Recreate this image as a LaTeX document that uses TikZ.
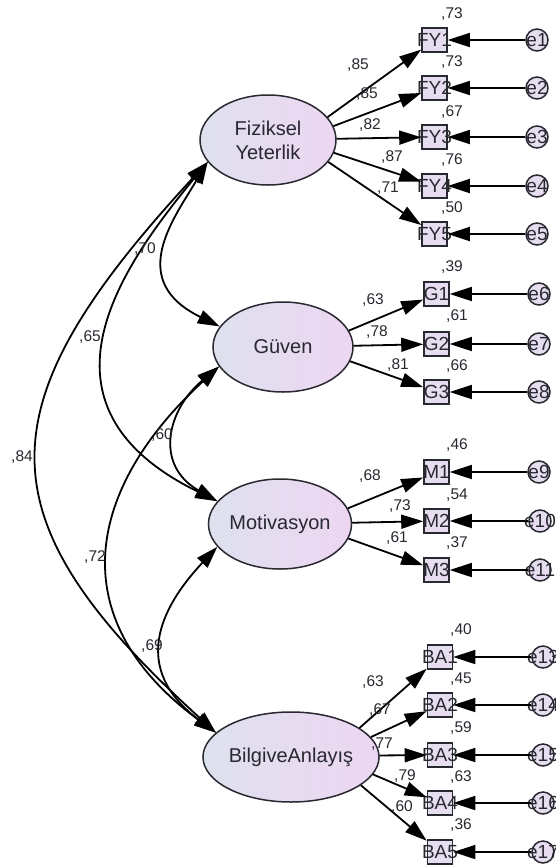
\documentclass[tikz,border=0pt]{standalone}
\usepackage{fontspec}
\setmainfont{Liberation Sans}
\usetikzlibrary{arrows.meta,shapes.geometric}
\definecolor{boxfill}{RGB}{230,222,240}
\definecolor{ellL}{RGB}{222,225,238}
\definecolor{ellR}{RGB}{237,214,242}
\definecolor{ink}{RGB}{40,40,48}
\newcommand{\ovl}[1]{\makebox[0pt][c]{#1}}
\begin{document}
\begin{tikzpicture}[x=1pt,y=-1pt,
  >={Triangle[length=22pt,width=14pt]},
  lat/.style={ellipse,draw=ink,line width=1.5pt,minimum width=136pt,minimum height=90pt,
    inner sep=0pt,left color=ellL,right color=ellR,text=ink,align=center,
    font=\fontsize{20}{24}\selectfont},
  obs/.style={rectangle,draw=ink,line width=1.6pt,fill=boxfill,minimum width=25pt,
    minimum height=24pt,inner sep=0pt,text=ink,font=\fontsize{19}{22}\selectfont},
  err/.style={circle,draw=ink,line width=1.5pt,fill=boxfill,minimum size=22pt,
    inner sep=0pt,text=ink,font=\fontsize{19}{22}\selectfont},
  lab/.style={inner sep=0pt,text=ink,font=\fontsize{15.5}{17}\selectfont},
  load/.style={draw=black,line width=1.8pt,->},
  cov/.style={draw=black,line width=1.8pt,<->},
]
\path[use as bounding box,fill=white] (0,0) rectangle (556,868);
\clip (0,0) rectangle (556,868);

% latent variables
\node[lat] (F) at (268,140) {Fiziksel\\Yeterlik};
\node[lat,minimum width=140pt] (G) at (283,347) {Güven};
\node[lat] (M) at (280,524) {Motivasyon};
\node[lat,minimum width=134pt] (BA) at (291,757) {BilgiveAnlayış};

% observed variables
\node[obs] (FY1) at (434.5,40) {\ovl{FY1}};
\node[obs] (FY2) at (434.5,88) {\ovl{FY2}};
\node[obs] (FY3) at (434.5,137) {\ovl{FY3}};
\node[obs] (FY4) at (434.5,186) {\ovl{FY4}};
\node[obs] (FY5) at (434.5,234) {\ovl{FY5}};
\node[obs] (G1) at (436.5,294) {\ovl{G1}};
\node[obs] (G2) at (436.5,344) {\ovl{G2}};
\node[obs] (G3) at (436.5,392) {\ovl{G3}};
\node[obs] (M1) at (436.5,472) {\ovl{M1}};
\node[obs] (M2) at (436.5,521) {\ovl{M2}};
\node[obs] (M3) at (436.5,570) {\ovl{M3}};
\node[obs] (BA1) at (440,657) {\ovl{BA1}};
\node[obs] (BA2) at (440,705) {\ovl{BA2}};
\node[obs] (BA3) at (440,755) {\ovl{BA3}};
\node[obs] (BA4) at (440,803) {\ovl{BA4}};
\node[obs] (BA5) at (440,852) {\ovl{BA5}};

% error terms
\node[err] (e1) at (537,40) {\ovl{e1}};
\node[err] (e2) at (537,88) {\ovl{e2}};
\node[err] (e3) at (537,137) {\ovl{e3}};
\node[err] (e4) at (537,186) {\ovl{e4}};
\node[err] (e5) at (537,234) {\ovl{e5}};
\node[err] (e6) at (539,294) {\ovl{e6}};
\node[err] (e7) at (539,344) {\ovl{e7}};
\node[err] (e8) at (539,392) {\ovl{e8}};
\node[err] (e9) at (539,472) {\ovl{e9}};
\node[err] (e10) at (540,521) {\ovl{e10}};
\node[err] (e11) at (540,570) {\ovl{e11}};
\node[err] (e13) at (543,657) {\ovl{e13}};
\node[err] (e14) at (543,705) {\ovl{e14}};
\node[err] (e15) at (543,755) {\ovl{e15}};
\node[err] (e16) at (543,803) {\ovl{e16}};
\node[err] (e17) at (543,852) {\ovl{e17}};

% error paths
\foreach \e/\o in {e1/FY1,e2/FY2,e3/FY3,e4/FY4,e5/FY5,e6/G1,e7/G2,e8/G3,
                   e9/M1,e10/M2,e11/M3,e13/BA1,e14/BA2,e15/BA3,e16/BA4,e17/BA5}
  \draw[load] (\e) -- (\o);

% loadings
\draw[load] (F.21) -- (FY1);
\draw[load] (F.12) -- (FY2);
\draw[load] (F.1) -- (FY3);
\draw[load] (F.-11) -- (FY4);
\draw[load] (F.-20) -- (FY5);
\draw[load] (G.14) -- (G1);
\draw[load] (G.1) -- (G2);
\draw[load] (G.-12) -- (G3);
\draw[load] (M.13) -- (M1);
\draw[load] (M.1) -- (M2);
\draw[load] (M.-12) -- (M3);
\draw[load] (BA.23) -- (BA1);
\draw[load] (BA.14) -- (BA2);
\draw[load] (BA.1) -- (BA3);
\draw[load] (BA.-12) -- (BA4);
\draw[load] (BA.-22) -- (BA5);

% covariances
\draw[cov] (F.200) .. controls (172,221) and (127,281) .. (G.162);
\draw[cov] (F.200) .. controls (123,265) and (21,405) .. (M.160);
\draw[cov] (F.200) .. controls (-19,407) and (-20,518) .. (BA.162);
\draw[cov] (G.197) .. controls (167,410) and (154,465) .. (M.160);
\draw[cov] (G.197) .. controls (87,488) and (60,618) .. (BA.162);
\draw[cov] (M.200) .. controls (159,609) and (131,669) .. (BA.162);

% squared multiple correlations
\node[lab] (r1) at (452,14) {,73};
\node[lab] (r2) at (452,62) {,73};
\node[lab] (r3) at (452,112) {,67};
\node[lab] (r4) at (452,160) {,76};
\node[lab] (r5) at (452,208) {,50};
\node[lab] (r6) at (452,267) {,39};
\node[lab] (r7) at (457,316) {,61};
\node[lab] (r8) at (457,366) {,66};
\node[lab] (r9) at (457,445) {,46};
\node[lab] (r10) at (457,495) {,54};
\node[lab] (r11) at (457,543) {,37};
\node[lab] (r13) at (461,630) {,40};
\node[lab] (r14) at (461,679) {,45};
\node[lab] (r15) at (461,728) {,59};
\node[lab] (r16) at (461,777) {,63};
\node[lab] (r17) at (461,825) {,36};

% loading values
\node[lab] (w1) at (358,65) {,85};
\node[lab] (w2) at (367,94) {,85};
\node[lab] (w3) at (370,125) {,82};
\node[lab] (w4) at (392,157) {,87};
\node[lab] (w5) at (388,188) {,71};
\node[lab] (w6) at (373,300) {,63};
\node[lab] (w7) at (377,332) {,78};
\node[lab] (w8) at (398,365) {,81};
\node[lab] (w9) at (370,476) {,68};
\node[lab] (w10) at (400,506) {,73};
\node[lab] (w11) at (397,538) {,61};
\node[lab] (w13) at (373,682) {,63};
\node[lab] (w14) at (380,710) {,67};
\node[lab] (w15) at (382,744) {,77};
\node[lab] (w16) at (405,776) {,79};
\node[lab] (w17) at (402,807) {,60};

% correlation values
\node[lab] (c1) at (145,249) {,70};
\node[lab] (c2) at (90,337) {,65};
\node[lab] (c3) at (162,435) {,60};
\node[lab] (c4) at (22,457) {,84};
\node[lab] (c5) at (95,557) {,72};
\node[lab] (c6) at (152,646) {,69};
\end{tikzpicture}
\end{document}
